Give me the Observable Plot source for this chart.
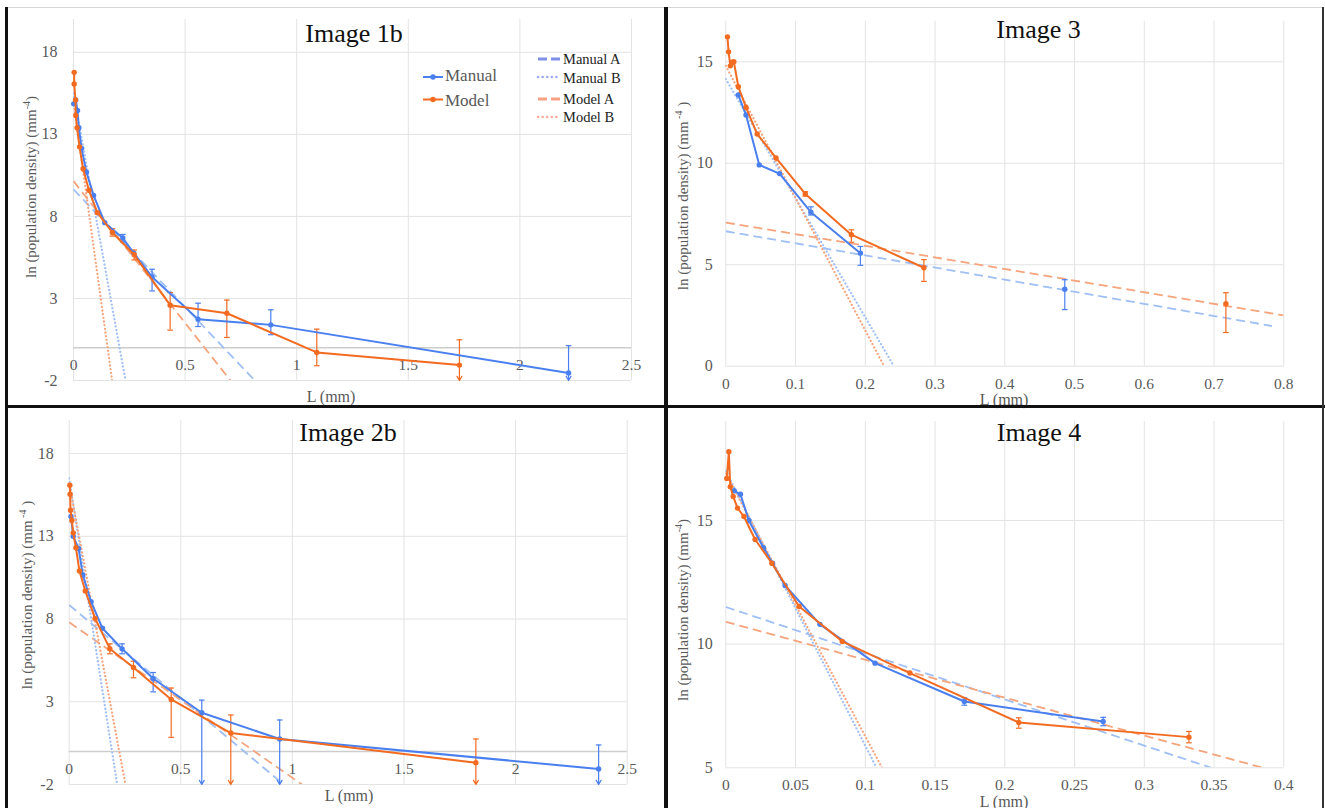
<!DOCTYPE html>
<html><head><meta charset="utf-8">
<script src="https://cdn.jsdelivr.net/npm/d3@7"></script>
<script src="https://cdn.jsdelivr.net/npm/@observablehq/plot@0.6"></script>
<style>
html,body{margin:0;padding:0;background:#fff;}
#root{position:relative;width:1325px;height:808px;overflow:hidden;background:#fff;font-family:"Liberation Serif","DejaVu Serif",serif;}
.panel{position:absolute;}
.lbl{position:absolute;white-space:nowrap;transform:translate(-50%,-50%);line-height:1;}
.lleft{position:absolute;white-space:nowrap;transform:translate(0,-50%);line-height:1;}
.ylbl{position:absolute;white-space:nowrap;transform:translate(-50%,-50%) rotate(-90deg);line-height:1;color:#595959;font-size:15px;}
.ylbl sup{font-size:10px;}
.bar{position:absolute;}
</style></head><body><div id="root"></div><script>
// ---------- Image 1b ----------
const img1bXTicks = [0, 0.5, 1, 1.5, 2, 2.5];
const img1bYTicks = [-2, 3, 8, 13, 18];
const img1bManual = [[0.001,14.86],[0.01,15.1],[0.018,14.45],[0.024,13.4],[0.036,12.14],[0.058,10.7],[0.09,9.28],[0.14,7.62],[0.221,6.68],[0.27,5.76],[0.352,4.31],[0.558,1.74],[0.884,1.39],[2.218,-1.54]];
const img1bModel = [[0.003,16.78],[0.003,16.07],[0.009,15.1],[0.01,14.15],[0.016,13.4],[0.027,12.24],[0.043,10.9],[0.069,9.59],[0.107,8.23],[0.174,7.02],[0.272,5.66],[0.433,2.59],[0.687,2.1],[1.09,-0.29],[1.729,-1.06]];
const img1bManualErr = [[0.221,6.45,6.9],[0.352,3.46,4.78],[0.558,1.29,2.71],[0.884,0.79,2.31],[2.218,null,0.12]];
const img1bModelErr = [[0.174,6.8,7.25],[0.272,5.35,5.95],[0.433,1.07,3.36],[0.687,0.62,2.9],[1.09,-1.1,1.13],[1.729,null,0.48]];
const img1bTrends = [["Manual A",0,9.65,0.812,-2],["Manual B",0,15.5,0.233,-2],["Model A",0,10.15,0.703,-2],["Model B",0,15.0,0.173,-2]];

// ---------- Image 3 ----------
const img3XTicks = [0, 0.1, 0.2, 0.3, 0.4, 0.5, 0.6, 0.7, 0.8];
const img3YTicks = [0, 5, 10, 15];
const img3Manual = [[0.018,13.36],[0.029,12.38],[0.048,9.92],[0.077,9.49],[0.122,7.59],[0.193,5.57]];
const img3ManualLone = [[0.486,3.79]];
const img3Model = [[0.0024,16.23],[0.004,15.49],[0.0065,14.8],[0.009,14.98],[0.0115,15.0],[0.018,13.77],[0.029,12.75],[0.045,11.44],[0.072,10.26],[0.114,8.49],[0.18,6.48],[0.284,4.85]];
const img3ModelLone = [[0.717,3.08]];
const img3ManualErr = [[0.122,7.45,7.85],[0.193,4.97,5.9],[0.486,2.79,4.26]];
const img3ModelErr = [[0.114,8.38,8.6],[0.18,6.11,6.72],[0.284,4.18,5.25],[0.717,1.66,3.62]];
const img3Trends = [["Manual A",0,6.65,0.783,1.98],["Manual B",0,14.15,0.241,0],["Model A",0,7.08,0.8,2.5],["Model B",0,14.8,0.227,0]];

// ---------- Image 2b ----------
const img2bXTicks = [0, 0.5, 1, 1.5, 2, 2.5];
const img2bYTicks = [-2, 3, 8, 13, 18];
const img2bManual = [[0.008,14.2],[0.018,13.0],[0.042,12.27],[0.061,10.66],[0.098,9.05],[0.149,7.44],[0.237,6.2],[0.376,4.41],[0.594,2.34],[0.943,0.75],[2.372,-1.06]];
const img2bModel = [[0.003,16.09],[0.004,15.55],[0.006,14.58],[0.012,13.96],[0.018,13.21],[0.03,12.31],[0.046,10.9],[0.072,9.7],[0.116,8.03],[0.182,6.21],[0.288,5.07],[0.457,3.14],[0.724,1.11],[1.822,-0.68]];
const img2bManualErr = [[0.237,5.9,6.5],[0.376,3.6,4.77],[0.594,null,3.1],[0.943,null,1.9],[2.372,null,0.39]];
const img2bModelErr = [[0.182,5.9,6.5],[0.288,4.45,5.45],[0.457,0.85,3.83],[0.724,null,2.2],[1.822,null,0.75]];
const img2bTrends = [["Manual A",0,8.85,0.961,-2],["Manual B",0,16.5,0.215,-2],["Model A",0,7.8,1.043,-2],["Model B",0,16.2,0.252,-2]];

// ---------- Image 4 ----------
const img4XTicks = [0, 0.05, 0.1, 0.15, 0.2, 0.25, 0.3, 0.35, 0.4];
const img4YTicks = [5, 10, 15];
const img4Manual = [[0.006,16.2],[0.0105,16.06],[0.0165,15.0],[0.027,13.9],[0.0335,13.27],[0.0425,12.37],[0.0675,10.8],[0.107,9.23],[0.171,7.68],[0.2705,6.87]];
const img4Model = [[0.0007,16.7],[0.0022,17.78],[0.0032,16.36],[0.0053,15.97],[0.0084,15.5],[0.013,15.16],[0.021,14.23],[0.033,13.27],[0.0526,11.52],[0.0835,10.11],[0.132,8.83],[0.21,6.83],[0.332,6.24]];
const img4ManualErr = [[0.171,7.53,7.83],[0.2705,6.7,7.04]];
const img4ModelErr = [[0.21,6.6,7.02],[0.332,6.01,6.47]];
const img4Trends = [["Manual A",0,11.5,0.348,5],["Manual B",0,17.0,0.108,5],["Model A",0,10.9,0.385,5],["Model B",0,16.9,0.112,5]];

// ---------- styles ----------
const FONT = '"Liberation Serif", "DejaVu Serif", serif';
const BLUE = "#4a7ff0", ORANGE = "#f26b21", BLUE_T = "#9fbff5", ORANGE_T = "#f5a47c";
const GRID = "#e3e3e3", TXT = "#595959";
const trendStyle = {
  "Manual A": {stroke: BLUE_T, strokeDasharray: "9,5", strokeWidth: 1.8},
  "Model A": {stroke: ORANGE_T, strokeDasharray: "9,5", strokeWidth: 1.8},
  "Manual B": {stroke: BLUE_T, strokeDasharray: "0.1,3.6", strokeLinecap: "round", strokeWidth: 2.2},
  "Model B": {stroke: ORANGE_T, strokeDasharray: "0.1,3.6", strokeLinecap: "round", strokeWidth: 2.2}
};
const cap = {draw(ctx, size) { const w = Math.sqrt(size); ctx.moveTo(-w, 0); ctx.lineTo(w, 0); }};

function makePanel(cfg, box) {
  const ymin = cfg.yDomain[0];
  const X = d => d[0], Y = d => d[1];
  const marks = [
    Plot.gridX(cfg.xTicks, {stroke: GRID, strokeOpacity: 1}),
    Plot.gridY(cfg.yTicks, {stroke: GRID, strokeOpacity: 1})
  ];
  if (cfg.cross > ymin) marks.push(Plot.ruleY([cfg.cross], {stroke: "#cdcdcd", strokeWidth: 1.5}));
  marks.push(Plot.axisY({ticks: cfg.yTicks, tickSize: 0, tickPadding: box.pad, fontSize: 16, tickFormat: d => String(d), label: null, fill: TXT, fontFamily: FONT}));
  marks.push(Plot.text(cfg.xTicks, {x: d => d, y: () => cfg.cross, dy: 17.5, text: d => String(d), fontSize: 15.5, fill: TXT, fontFamily: FONT}));
  for (const name of ["Manual A", "Model A", "Manual B", "Model B"]) {
    marks.push(Plot.link(cfg.trends.filter(t => t[0] === name), {x1: d => d[1], y1: d => d[2], x2: d => d[3], y2: d => d[4], ...trendStyle[name], clip: true}));
  }
  for (const [err, color] of [[cfg.manualErr, BLUE], [cfg.modelErr, ORANGE]]) {
    const fin = err.filter(d => d[1] !== null), inf = err.filter(d => d[1] === null);
    marks.push(Plot.ruleX(fin, {x: X, y1: d => d[1], y2: d => d[2], stroke: color, strokeWidth: 1.2}));
    marks.push(Plot.dot(fin, {x: X, y: d => d[1], symbol: cap, r: 1.6, stroke: color, strokeWidth: 1.2, fill: "none"}));
    marks.push(Plot.dot(err, {x: X, y: d => d[2], symbol: cap, r: 1.6, stroke: color, strokeWidth: 1.2, fill: "none"}));
    marks.push(Plot.arrow(inf, {x1: X, y1: d => d[2], x2: X, y2: () => ymin, stroke: color, strokeWidth: 1.2, headLength: 6}));
  }
  marks.push(Plot.line(cfg.manual, {x: X, y: Y, stroke: BLUE, strokeWidth: 2}));
  marks.push(Plot.dot(cfg.manual.concat(cfg.manualLone || []), {x: X, y: Y, r: 2.7, fill: BLUE}));
  marks.push(Plot.line(cfg.model, {x: X, y: Y, stroke: ORANGE, strokeWidth: 2}));
  marks.push(Plot.dot(cfg.model.concat(cfg.modelLone || []), {x: X, y: Y, r: 2.7, fill: ORANGE}));
  const svg = Plot.plot({
    width: box.w, height: box.h,
    marginLeft: box.ml, marginRight: box.mr, marginTop: box.mt, marginBottom: box.mb,
    x: {domain: cfg.xDomain, axis: null},
    y: {domain: cfg.yDomain, axis: null},
    style: {fontFamily: FONT, color: TXT, background: "transparent", overflow: "visible"},
    marks
  });
  const div = document.createElement("div");
  div.className = "panel";
  div.style.left = box.left + "px";
  div.style.top = box.top + "px";
  div.appendChild(svg);
  return div;
}

const root = document.getElementById("root");
root.appendChild(makePanel(
  {xDomain: [0, 2.5], yDomain: [-2, 20], xTicks: img1bXTicks, yTicks: img1bYTicks, cross: 0,
   manual: img1bManual, model: img1bModel, manualErr: img1bManualErr, modelErr: img1bModelErr, trends: img1bTrends},
  {left: 0, top: 0, w: 665, h: 405, ml: 73, mr: 34, mt: 19, mb: 25, pad: 16}));
root.appendChild(makePanel(
  {xDomain: [0, 0.8], yDomain: [0, 17], xTicks: img3XTicks, yTicks: img3YTicks, cross: 0,
   manual: img3Manual, manualLone: img3ManualLone, model: img3Model, modelLone: img3ModelLone,
   manualErr: img3ManualErr, modelErr: img3ModelErr, trends: img3Trends},
  {left: 665, top: 0, w: 660, h: 405, ml: 60.3, mr: 41.7, mt: 20.7, mb: 39.3, pad: 13}));
root.appendChild(makePanel(
  {xDomain: [0, 2.5], yDomain: [-2, 20], xTicks: img2bXTicks, yTicks: img2bYTicks, cross: 0,
   manual: img2bManual, model: img2bModel, manualErr: img2bManualErr, modelErr: img2bModelErr, trends: img2bTrends},
  {left: 0, top: 405, w: 665, h: 403, ml: 68.7, mr: 38.3, mt: 15, mb: 24, pad: 15.5}));
root.appendChild(makePanel(
  {xDomain: [0, 0.4], yDomain: [5, 19], xTicks: img4XTicks, yTicks: img4YTicks, cross: 5,
   manual: img4Manual, model: img4Model, manualErr: img4ManualErr, modelErr: img4ModelErr, trends: img4Trends},
  {left: 665, top: 405, w: 660, h: 403, ml: 60.3, mr: 41.7, mt: 16, mb: 40.7, pad: 13}));

// ---------- text overlays ----------
function addLabel(cls, html, x, y, size, color) {
  const d = document.createElement("div");
  d.className = cls;
  d.innerHTML = html;
  d.style.left = x + "px";
  d.style.top = y + "px";
  d.style.fontFamily = FONT;
  if (size) d.style.fontSize = size + "px";
  if (color) d.style.color = color;
  root.appendChild(d);
}
const titles = [["Image 1b", 354, 34], ["Image 3", 1038.5, 30], ["Image 2b", 348, 433], ["Image 4", 1039, 433]];
for (const [t, x, y] of titles) addLabel("lbl", t, x, y, 26, "#111");
const xTitles = [[331, 397], [1004, 399.5], [349, 796], [1004, 801.5]];
for (const [x, y] of xTitles) addLabel("lbl", "L (mm)", x, y, 16, TXT);
addLabel("ylbl", "ln (population density) (mm<sup>-4</sup>)", 30, 187);
addLabel("ylbl", "ln (population density) (mm<sup>&nbsp;-4</sup>&nbsp;)", 681.5, 196);
addLabel("ylbl", "ln (population density) (mm<sup>&nbsp;-4</sup>&nbsp;)", 26, 595);
addLabel("ylbl", "ln (population density) (mm<sup>-4</sup>)", 681.5, 610);

// ---------- legend (Image 1b) ----------
const leg = document.createElementNS("http://www.w3.org/2000/svg", "svg");
leg.setAttribute("width", 1325); leg.setAttribute("height", 808);
leg.style.position = "absolute"; leg.style.left = "0px"; leg.style.top = "0px";
leg.innerHTML = `
  <line x1="423" y1="77" x2="443" y2="77" stroke="${BLUE}" stroke-width="2"/>
  <circle cx="433" cy="77" r="2.7" fill="${BLUE}"/>
  <line x1="423" y1="99.5" x2="443" y2="99.5" stroke="${ORANGE}" stroke-width="2"/>
  <circle cx="433" cy="99.5" r="2.7" fill="${ORANGE}"/>
  <line x1="538" y1="59" x2="560" y2="59" stroke="#7f8fe8" stroke-width="3" stroke-dasharray="9,4"/>
  <line x1="538" y1="77" x2="560" y2="77" stroke="#9aa9f0" stroke-width="2.5" stroke-dasharray="0.1,4.5" stroke-linecap="round"/>
  <line x1="538" y1="99" x2="560" y2="99" stroke="#f7a184" stroke-width="3" stroke-dasharray="9,4"/>
  <line x1="538" y1="117" x2="560" y2="117" stroke="#f7ab98" stroke-width="2.5" stroke-dasharray="0.1,4.5" stroke-linecap="round"/>`;
root.appendChild(leg);
addLabel("lleft", "Manual", 445, 74.5, 17, TXT);
addLabel("lleft", "Model", 445, 99.5, 17, TXT);
addLabel("lleft", "Manual A", 563, 58.5, 14.5, "#222");
addLabel("lleft", "Manual B", 563, 77.7, 14.5, "#222");
addLabel("lleft", "Model A", 563, 98.7, 14.5, "#222");
addLabel("lleft", "Model B", 563, 117.3, 14.5, "#222");

// ---------- panel frame lines ----------
const bars = [
  [8, 7, 1315, 1, "#d6d6d6"],
  [5, 7, 3, 801, "#111"],
  [664, 7, 4, 801, "#111"],
  [5, 405, 1320, 3, "#111"],
  [1322, 7, 2, 801, "#333"]
];
for (const [x, y, w, h, c] of bars) {
  const b = document.createElement("div");
  b.className = "bar";
  Object.assign(b.style, {left: x + "px", top: y + "px", width: w + "px", height: h + "px", background: c});
  root.appendChild(b);
}
</script></body></html>
